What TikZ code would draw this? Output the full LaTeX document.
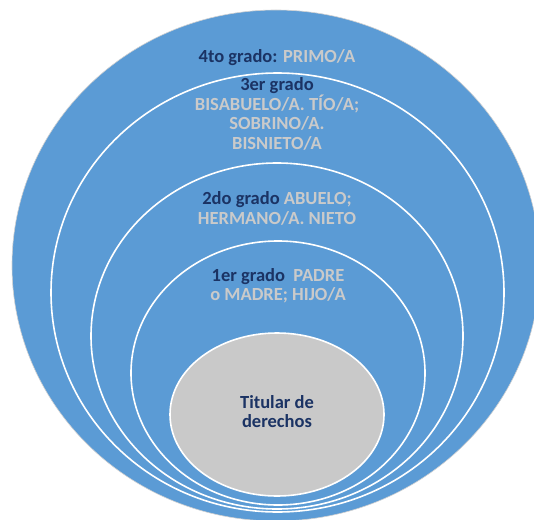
\documentclass[tikz,border=0pt]{standalone}
\usepackage{fontspec}
\setmainfont{Carlito}
\usetikzlibrary{shapes.geometric}
\definecolor{ringblue}{HTML}{5B9BD5}
\definecolor{coregray}{HTML}{C9C9C9}
\definecolor{navy}{HTML}{1B3364}
\definecolor{lightt}{HTML}{CACACA}
\tikzset{
  ring/.style={ellipse, fill=ringblue, draw=white, line width=1.6pt, inner sep=0pt},
  core/.style={ellipse, fill=coregray, draw=white, line width=1.6pt, inner sep=0pt},
  lbl/.style={align=center, font=\fontsize{18.5}{19.5}\selectfont\bfseries, text=navy, inner sep=0pt},
}
\newcommand{\lt}[1]{\textcolor{lightt}{#1}}
\begin{document}
\begin{tikzpicture}[x=1pt,y=-1pt]
\useasboundingbox (0,0) rectangle (534,519);
\clip (0,0) rectangle (534,519);
\node[ring, draw=black!18, line width=0.6pt, minimum width=528pt, minimum height=511pt] (g4) at (276,265.5) {};
\node[ring, minimum width=453pt, minimum height=439pt] (g3) at (277.5,292.5) {};
\node[ring, minimum width=372pt, minimum height=346pt] (g2) at (277,336) {};
\node[ring, minimum width=294pt, minimum height=264pt] (g1) at (278,373) {};
\node[core, minimum width=214pt, minimum height=163pt] (g0) at (277,414.5) {};
\node[lbl] (t4) at (277,58) {4to grado: \lt{PRIMO/A}};
\node[lbl] (t3) at (277,114) {3er grado\\\lt{BISABUELO/A. TÍO/A;}\\\lt{SOBRINO/A.}\\\lt{BISNIETO/A}};
\node[lbl] (t2) at (277,208.5) {2do grado \lt{ABUELO;}\\\lt{HERMANO/A. NIETO}};
\node[lbl] (t1) at (278,286) {1er grado\ \ \lt{PADRE}\\\lt{o MADRE; HIJO/A}};
\node[lbl] (t0) at (277,411.5) {Titular de\\derechos};
\end{tikzpicture}
\end{document}
